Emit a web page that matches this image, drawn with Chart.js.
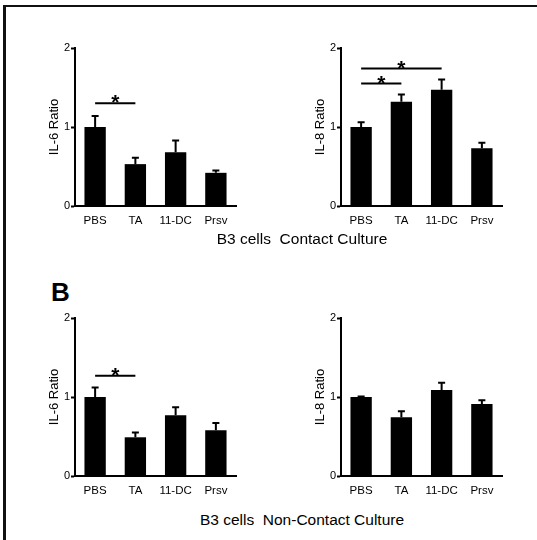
<!DOCTYPE html>
<html>
<head>
<meta charset="utf-8">
<script src="https://cdn.jsdelivr.net/npm/chart.js@4/dist/chart.umd.min.js"></script>
<style>
  body { margin: 0; background: #fff; font-family: "Liberation Sans", Arial, sans-serif; }
  #page { position: relative; width: 537px; height: 540px; overflow: hidden; }
  #frame { position: absolute; left: 3px; top: 5px; right: 0; bottom: 0; border-left: 3px solid #111; border-top: 2px solid #111; }
  canvas { position: absolute; }
  .caption { position: absolute; left: 0; width: 604px; text-align: center; font-size: 15.5px; white-space: pre; color: #000; }
  #panelLetter { position: absolute; left: 51px; top: 277px; font-size: 26px; font-weight: bold; color: #000; }
</style>
</head>
<body>
<div id="page">
  <div id="frame"></div>
  <canvas id="contactIL6" width="230" height="221" style="left:19px;top:20px"></canvas>
  <canvas id="contactIL8" width="230" height="221" style="left:285px;top:20px"></canvas>
  <div class="caption" style="top:230px">B3 cells  Contact Culture</div>
  <div id="panelLetter">B</div>
  <canvas id="nonContactIL6" width="230" height="221" style="left:19px;top:290px"></canvas>
  <canvas id="nonContactIL8" width="230" height="221" style="left:285px;top:290px"></canvas>
  <div class="caption" style="top:511px">B3 cells  Non-Contact Culture</div>
</div>
<script>
const groups = ["PBS", "TA", "11-DC", "Prsv"];
const yTicks = [0, 1, 2];

// contact culture
const contactIL6 = [1.0, 0.53, 0.68, 0.42];
const contactIL6Sem = [0.14, 0.08, 0.15, 0.03];
const contactIL6Sig = [[0, 1, 1.3]];

const contactIL8 = [1.0, 1.32, 1.47, 0.73];
const contactIL8Sem = [0.06, 0.09, 0.13, 0.07];
const contactIL8Sig = [[0, 1, 1.55], [0, 2, 1.74]];

// non-contact culture
const nonContactIL6 = [1.0, 0.49, 0.77, 0.58];
const nonContactIL6Sem = [0.12, 0.06, 0.1, 0.09];
const nonContactIL6Sig = [[0, 1, 1.27]];

const nonContactIL8 = [1.0, 0.745, 1.09, 0.91];
const nonContactIL8Sem = [0.005, 0.075, 0.09, 0.05];
const nonContactIL8Sig = [];

const FONT = "'Liberation Sans', Arial, sans-serif";

// error bars (upper half only) and significance brackets
const annotations = {
  id: "annotations",
  afterDatasetsDraw(chart, args, opts) {
    const ctx = chart.ctx;
    const y = chart.scales.y;
    const bars = chart.getDatasetMeta(0).data;
    ctx.save();
    ctx.strokeStyle = "#000";
    ctx.fillStyle = "#000";
    ctx.lineWidth = 2;
    opts.sem.forEach((s, i) => {
      const x = bars[i].x;
      const top = y.getPixelForValue(opts.values[i] + s);
      ctx.beginPath();
      ctx.moveTo(x, y.getPixelForValue(opts.values[i]));
      ctx.lineTo(x, top);
      ctx.moveTo(x - 3.5, top);
      ctx.lineTo(x + 3.5, top);
      ctx.stroke();
    });
    opts.sig.forEach(([a, b, v]) => {
      const py = y.getPixelForValue(v);
      ctx.beginPath();
      ctx.moveTo(bars[a].x, py);
      ctx.lineTo(bars[b].x, py);
      ctx.stroke();
      ctx.font = "bold 21px " + FONT;
      ctx.textAlign = "center";
      ctx.textBaseline = "alphabetic";
      ctx.fillText("*", (bars[a].x + bars[b].x) / 2, py + 6);
    });
    ctx.restore();
  },
};

function createPanel(id, title, values, sem, sig) {
  const ctx = document.getElementById(id).getContext("2d");
  return new Chart(ctx, {
    type: "bar",
    data: {
      labels: groups,
      datasets: [
        {
          data: values,
          backgroundColor: "#000",
          borderWidth: 0,
          barPercentage: 0.53,
          categoryPercentage: 1,
        },
      ],
    },
    plugins: [annotations],
    options: {
      responsive: false,
      devicePixelRatio: 1,
      animation: false,
      layout: { padding: { left: 28, right: 13, top: 28, bottom: 0 } },
      plugins: {
        legend: { display: false },
        tooltip: { enabled: false },
        annotations: { values: values, sem: sem, sig: sig },
      },
      scales: {
        x: {
          grid: { display: false, drawTicks: false },
          border: { display: true, color: "#000", width: 2 },
          ticks: { color: "#000", padding: 8, font: { family: FONT, size: 11.5 } },
          afterFit: (scale) => { scale.height = 35; },
        },
        y: {
          min: 0,
          max: 2,
          afterBuildTicks: (scale) => { scale.ticks = yTicks.map((v) => ({ value: v })); },
          grid: { drawOnChartArea: false, drawTicks: true, tickLength: 4, tickColor: "#000", tickWidth: 2 },
          border: { display: true, color: "#000", width: 2 },
          ticks: { color: "#000", padding: 1, font: { family: FONT, size: 11 } },
          title: { display: true, text: title, color: "#000", padding: 0, font: { family: FONT, size: 13 } },
          afterFit: (scale) => { scale.width = 28; },
        },
      },
    },
  });
}

createPanel("contactIL6", "IL-6 Ratio", contactIL6, contactIL6Sem, contactIL6Sig);
createPanel("contactIL8", "IL-8 Ratio", contactIL8, contactIL8Sem, contactIL8Sig);
createPanel("nonContactIL6", "IL-6 Ratio", nonContactIL6, nonContactIL6Sem, nonContactIL6Sig);
createPanel("nonContactIL8", "IL-8 Ratio", nonContactIL8, nonContactIL8Sem, nonContactIL8Sig);
</script>
</body>
</html>
